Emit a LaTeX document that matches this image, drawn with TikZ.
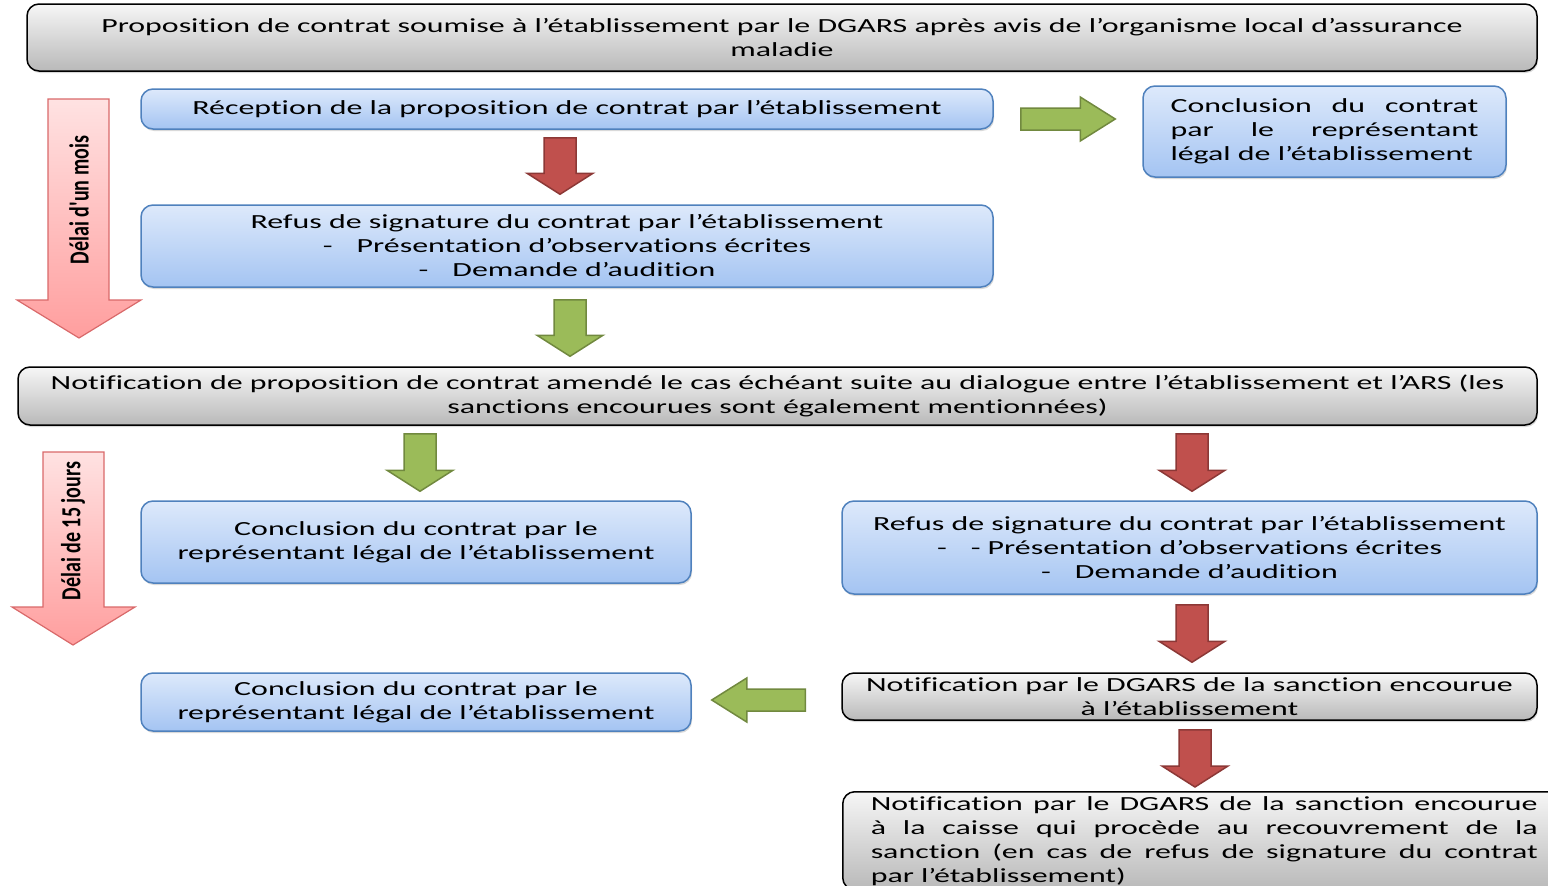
\documentclass[tikz,border=0pt]{standalone}
\usepackage{fontspec}
\setmainfont{Carlito}[FakeStretch=1.595, Ligatures=NoCommon]
\newfontfamily\delaifont{Carlito}
\usetikzlibrary{calc,shadows}

\definecolor{bluetop}{HTML}{DDE9FB}
\definecolor{bluebot}{HTML}{A4C4F2}
\definecolor{blueline}{HTML}{4F81BD}
\definecolor{greytop}{HTML}{F6F6F6}
\definecolor{greybot}{HTML}{B9B9B9}
\definecolor{redfill}{HTML}{C0504D}
\definecolor{redline}{HTML}{8C3836}
\definecolor{greenfill}{HTML}{9BBB59}
\definecolor{greenline}{HTML}{71893F}
\definecolor{pinktop}{HTML}{FFE2E2}
\definecolor{pinkbot}{HTML}{FF9E9E}
\definecolor{pinkline}{HTML}{D9696A}

\tikzset{
  box/.style={rounded corners=12pt, inner sep=0pt, align=center,
    font=\fontsize{20}{24}\selectfont,
    drop shadow={shadow xshift=1pt, shadow yshift=-2pt, opacity=0.3}},
  bluebox/.style={box, draw=blueline, line width=1.5pt, top color=bluetop, bottom color=bluebot},
  greybox/.style={box, draw=black, line width=1.5pt, top color=greytop, bottom color=greybot},
  redarrow/.style={draw=redline, line width=1.5pt, fill=redfill},
  greenarrow/.style={draw=greenline, line width=1.5pt, fill=greenfill},
  pinkarrow/.style={draw=pinkline, line width=1.2pt, top color=pinktop, bottom color=pinkbot},
  delai/.style={rotate=90, inner sep=0pt, font=\delaifont\bfseries\fontsize{20}{24}\selectfont},
}

% block arrow pointing down: style, from, to, x, top gap, tip gap
\newcommand{\vblock}[6]{%
  \draw[#1] let \p1=(#2.south), \p2=(#3.north) in
    ({#4pt-16pt},{\y1-#5pt}) -- ({#4pt+16pt},{\y1-#5pt}) -- ({#4pt+16pt},{\y2+#6pt+21pt})
    -- ({#4pt+33pt},{\y2+#6pt+21pt}) -- ({#4pt},{\y2+#6pt}) -- ({#4pt-33pt},{\y2+#6pt+21pt})
    -- ({#4pt-16pt},{\y2+#6pt+21pt}) -- cycle;}
% block arrow sideways: style, from, to, y, tail gap, tip gap
\newcommand{\hblock}[6]{%
  \draw[#1] let \p1=(#2), \p2=(#3), \n1={sign(\x2-\x1)} in
    ({\x1+\n1*#5pt},{-#4pt+11pt}) -- ({\x2-\n1*(#6pt+35pt)},{-#4pt+11pt})
    -- ({\x2-\n1*(#6pt+35pt)},{-#4pt+22pt}) -- ({\x2-\n1*#6pt},{-#4pt})
    -- ({\x2-\n1*(#6pt+35pt)},{-#4pt-22pt}) -- ({\x2-\n1*(#6pt+35pt)},{-#4pt-11pt})
    -- ({\x1+\n1*#5pt},{-#4pt-11pt}) -- cycle;}

\begin{document}
\begin{tikzpicture}[x=1pt,y=-1pt]
	\useasboundingbox (0,0) rectangle (1548,886);
	\clip (0,0) rectangle (1548,886);

	% boxes
	\node[greybox, minimum width=1510pt, minimum height=67pt] (top) at (782,37.5)
		{Proposition de contrat soumise à l’établissement par le DGARS après avis de l’organisme local d’assurance\\maladie};
	\node[bluebox, minimum width=852pt, minimum height=40pt] (recep) at (567,109)
		{Réception de la proposition de contrat par l’établissement};
	\node[bluebox, minimum width=363pt, minimum height=91pt, text width=308pt, align=justify] (conclA) at (1324.5,131.5)
		{Conclusion du contrat\linebreak par le représentant\linebreak légal de l’établissement};
	\node[bluebox, minimum width=852pt, minimum height=82pt] (refusA) at (567,246)
		{Refus de signature du contrat par l’établissement\\-\hspace{24pt}Présentation d’observations écrites\\-\hspace{24pt}Demande d’audition};
	\node[greybox, minimum width=1519pt, minimum height=58pt] (notifA) at (777.5,396)
		{Notification de proposition de contrat amendé le cas échéant suite au dialogue entre l’établissement et l’ARS (les\\sanctions encourues sont également mentionnées)};
	\node[bluebox, minimum width=550pt, minimum height=82pt] (conclB) at (416,542)
		{Conclusion du contrat par le\\représentant légal de l’établissement};
	\node[bluebox, minimum width=695pt, minimum height=93pt] (refusB) at (1189.5,547.5)
		{Refus de signature du contrat par l’établissement\\-\hspace{24pt}- Présentation d’observations écrites\\-\hspace{24pt}Demande d’audition};
	\node[bluebox, minimum width=550pt, minimum height=58pt] (conclC) at (416,702)
		{Conclusion du contrat par le\\représentant légal de l’établissement};
	\node[greybox, minimum width=695pt, minimum height=47pt] (notifB) at (1189.5,696.5)
		{Notification par le DGARS de la sanction encourue\\à l’établissement};
	\node[greybox, anchor=north west, minimum width=723pt, minimum height=98pt, inner xsep=28pt,
		text width=667pt, align=justify] (notifC) at (842,791)
		{Notification par le DGARS de la sanction encourue\linebreak
		 à la caisse qui procède au recouvrement de la\linebreak
		 sanction (en cas de refus de signature du contrat\linebreak
		 par l’établissement)};

	% delays
	\draw[pinkarrow] (48,99) -- (109,99) -- (109,300) -- (141,300) -- (79,338) -- (17,300) -- (48,300) -- cycle;
	\node[delai] (delaiA) at (79,200) {\scalebox{1}[1.38]{Délai d'un mois}};
	\draw[pinkarrow] (43,452) -- (104,452) -- (104,607) -- (135,607) -- (73,645) -- (12,607) -- (43,607) -- cycle;
	\node[delai] (delaiB) at (73,531) {\scalebox{1}[1.38]{Délai de 15 jours}};

	% arrows
	\vblock{redarrow}{recep}{refusA}{560}{8}{10}
	\vblock{greenarrow}{refusA}{notifA}{570}{12}{10}
	\vblock{greenarrow}{notifA}{conclB}{420}{8}{9}
	\vblock{redarrow}{notifA}{refusB}{1192}{8}{9}
	\vblock{redarrow}{refusB}{notifB}{1192}{10}{10}
	\vblock{redarrow}{notifB}{notifC}{1195}{9}{4}
	\hblock{greenarrow}{recep.east}{conclA.west}{119}{27}{27}
	\hblock{greenarrow}{notifB.west}{conclC.east}{700}{36}{20}
\end{tikzpicture}
\end{document}
